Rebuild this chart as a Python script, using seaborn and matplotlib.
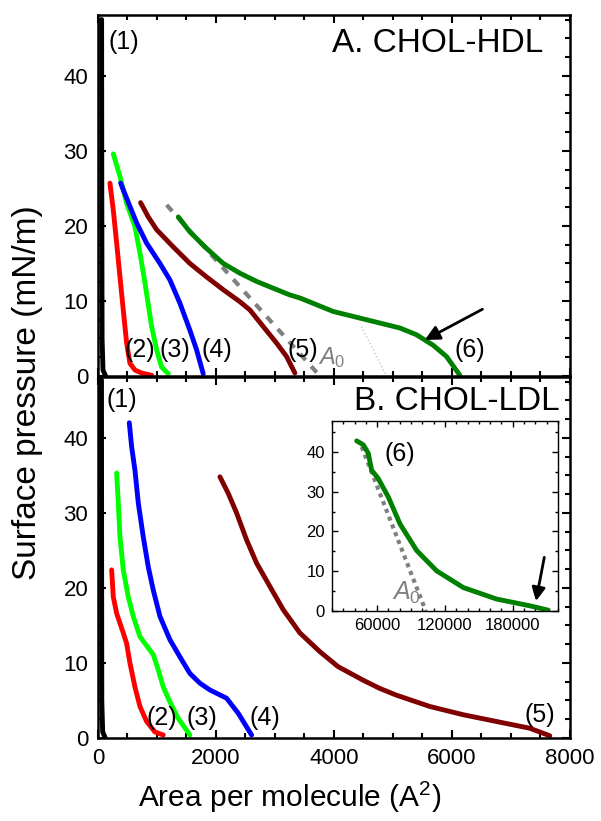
import matplotlib
matplotlib.use("Agg")
import matplotlib.pyplot as plt
from matplotlib.ticker import MultipleLocator
import seaborn as sns

# ---- data (area in A^2, pressure in mN/m) ----
# panel A: CHOL-HDL
hdl1_x = [130, 85, 70, 65, 62]
hdl1_y = [0, 0.8, 5, 25, 47.5]
hdl2_x = [203, 260, 317, 373, 429, 486, 542, 627, 740, 910]
hdl2_y = [25.7, 22.1, 17.7, 13.2, 8.8, 4.4, 1.7, 0.8, 0.4, 0.1]
hdl3_x = [260, 373, 486, 627, 712, 797, 910, 995, 1079, 1192]
hdl3_y = [29.6, 26.6, 23.0, 19.9, 16.4, 12.4, 6.6, 3.5, 1.2, 0.3]
hdl4_x = [384, 542, 656, 825, 1051, 1220, 1390, 1559, 1672, 1785]
hdl4_y = [25.7, 22.6, 20.4, 17.7, 15.0, 12.8, 9.7, 6.1, 3.5, 0.3]
hdl5_x = [723, 853, 995, 1277, 1559, 1842, 2124, 2407, 2576, 2802, 3028, 3198, 3339]
hdl5_y = [23.1, 21.2, 19.5, 17.2, 15.0, 13.2, 11.5, 9.9, 8.8, 6.6, 4.4, 2.6, 0.4]
hdl6_x = [1362, 1559, 1842, 2124, 2407, 2690, 3254, 3424, 3989, 4554, 5119,
          5401, 5684, 5910, 6136]
hdl6_y = [21.2, 19.2, 17.0, 15.0, 13.7, 12.6, 10.8, 10.4, 8.6, 7.5, 6.4,
          5.5, 4.1, 2.6, 0.1]
hdl_a0_x = [1164, 3820]
hdl_a0_y = [22.8, -0.5]
hdl_tan_x = [4469, 4980]
hdl_tan_y = [6.6, -1.4]

# panel B: CHOL-LDL
ldl1_x = [125, 80, 65, 62, 60]
ldl1_y = [0, 0.8, 5, 25, 47.7]
ldl2_x = [232, 260, 317, 429, 486, 542, 627, 712, 825, 966, 1107]
ldl2_y = [22.4, 18.8, 16.6, 14.0, 12.6, 10.0, 6.8, 4.2, 2.2, 0.8, 0.4]
ldl3_x = [317, 345, 373, 429, 514, 599, 712, 853, 938, 1022, 1107, 1220, 1362, 1559]
ldl3_y = [35.3, 31.3, 26.8, 22.4, 18.8, 16.2, 13.5, 12.0, 11.1, 9.1, 6.8, 4.8, 2.6, 0.4]
ldl4_x = [531, 571, 627, 684, 768, 853, 938, 1051, 1220, 1390, 1559, 1729,
          1898, 2181, 2378, 2605]
ldl4_y = [42.0, 38.8, 35.7, 31.3, 26.8, 22.8, 19.7, 16.2, 13.1, 10.8, 8.6, 7.3,
          6.4, 5.3, 3.3, 0.4]
ldl5_x = [2068, 2209, 2350, 2520, 2690, 2915, 3141, 3424, 3763, 4073, 4497,
          4780, 5063, 5627, 6192, 6757, 7322, 7661]
ldl5_y = [34.8, 32.6, 30.0, 26.4, 23.3, 20.2, 17.1, 14.0, 11.5, 9.5, 7.7,
          6.6, 5.7, 4.2, 3.1, 2.2, 1.3, 0.3]

# inset: curve (6) of CHOL-LDL
ins6_x = [41850, 47700, 52100, 55100, 61000, 69800, 80200, 95000, 112600,
          136200, 165700, 195200, 211400]
ins6_y = [42.8, 41.8, 39.7, 35.4, 33.3, 28.7, 21.9, 15.2, 10.1, 5.9, 3.0, 1.3, 0.2]
ins_a0_x = [46300, 103000]
ins_a0_y = [41.3, 0.0]

sns.set_style("ticks")
plt.rcParams['font.family'] = ['Liberation Sans', 'DejaVu Sans']
plt.rcParams['mathtext.fontset'] = 'custom'
plt.rcParams['mathtext.rm'] = 'Liberation Sans'
plt.rcParams['mathtext.it'] = 'Liberation Sans:italic'
for k in ['text.color', 'axes.labelcolor', 'xtick.color', 'ytick.color', 'axes.edgecolor']:
    plt.rcParams[k] = 'black'

RED = '#ff0000'
LIME = '#00ff00'
BLUE = '#0000ff'
MAROON = '#800000'
DGREEN = '#008000'
GRAY = '#808080'
LW = 3.5

fig = plt.figure(figsize=(6.01, 8.21), dpi=100)
axA = fig.add_axes([0.163, 0.542, 0.785, 0.4397])
axB = fig.add_axes([0.163, 0.1011, 0.785, 0.4397])
axI = fig.add_axes([0.5524, 0.2558, 0.376, 0.2314])


def curve(ax, x, y, color, lw=LW, **kw):
    sns.lineplot(x=x, y=y, ax=ax, color=color, lw=lw, sort=False,
                 estimator=None, legend=False, **kw)


def style_main(ax):
    ax.set_xlim(0, 8000)
    ax.set_ylim(0, 48.1)
    ax.xaxis.set_major_locator(MultipleLocator(2000))
    ax.xaxis.set_minor_locator(MultipleLocator(500))
    ax.yaxis.set_major_locator(MultipleLocator(10))
    ax.yaxis.set_minor_locator(MultipleLocator(2.5))
    ax.tick_params(which='both', direction='in', top=True, right=True,
                   width=1.5, labelsize=16)
    ax.tick_params(which='major', length=6, pad=7)
    ax.tick_params(which='minor', length=3.5)
    for s in ax.spines.values():
        s.set_linewidth(1.8)
    ax.set_xlabel('')
    ax.set_ylabel('')


# ---- panel A ----
curve(axA, hdl_tan_x, hdl_tan_y, '#c8c8c8', lw=1.0, linestyle=':', clip_on=False)
curve(axA, hdl_a0_x, hdl_a0_y, GRAY, lw=3.0, linestyle=(0, (2, 2)), clip_on=False)
curve(axA, hdl1_x, hdl1_y, 'black', lw=3.5)
curve(axA, hdl2_x, hdl2_y, RED)
curve(axA, hdl3_x, hdl3_y, LIME)
curve(axA, hdl4_x, hdl4_y, BLUE)
curve(axA, hdl5_x, hdl5_y, MAROON)
curve(axA, hdl6_x, hdl6_y, DGREEN)
axA.annotate('', xy=(5542, 4.8), xytext=(6520, 8.9),
             arrowprops=dict(arrowstyle='-|>', color='black', lw=2,
                             mutation_scale=22, shrinkA=0, shrinkB=0))
style_main(axA)
axA.tick_params(labelbottom=False)
lab = dict(fontsize=18, ha='center', va='center')
axA.text(440, 44.5, '(1)', **lab)
axA.text(712, 3.5, '(2)', **lab)
axA.text(1305, 3.5, '(3)', **lab)
axA.text(2011, 3.5, '(4)', **lab)
axA.text(3480, 3.5, '(5)', **lab)
axA.text(6305, 3.5, '(6)', **lab)
axA.text(3960, 2.4, r'$A_0$', fontsize=17, color=GRAY, ha='center', va='center')
axA.text(0.943, 0.922, 'A. CHOL-HDL', transform=axA.transAxes, fontsize=24,
         ha='right', va='center')

# ---- panel B ----
curve(axB, ldl1_x, ldl1_y, 'black', lw=3.5)
curve(axB, ldl2_x, ldl2_y, RED)
curve(axB, ldl3_x, ldl3_y, LIME)
curve(axB, ldl4_x, ldl4_y, BLUE)
curve(axB, ldl5_x, ldl5_y, MAROON)
style_main(axB)
axB.text(401, 45, '(1)', **lab)
axB.text(1079, 2.6, '(2)', **lab)
axB.text(1757, 2.6, '(3)', **lab)
axB.text(2831, 2.6, '(4)', **lab)
axB.text(7492, 3.1, '(5)', **lab)
axB.text(0.979, 0.931, 'B. CHOL-LDL', transform=axB.transAxes, fontsize=24,
         ha='right', va='center')

# ---- inset ----
curve(axI, ins_a0_x, ins_a0_y, GRAY, lw=3.0, linestyle=(0, (1, 1)))
curve(axI, ins6_x, ins6_y, DGREEN)
axI.annotate('', xy=(200500, 2.5), xytext=(207900, 13.5),
             arrowprops=dict(arrowstyle='-|>', color='black', lw=2,
                             mutation_scale=20, shrinkA=0, shrinkB=0))
axI.set_xlim(20000, 220000)
axI.set_ylim(0, 47.8)
axI.xaxis.set_major_locator(MultipleLocator(60000))
axI.xaxis.set_minor_locator(MultipleLocator(10000))
axI.yaxis.set_major_locator(MultipleLocator(10))
axI.yaxis.set_minor_locator(MultipleLocator(5))
axI.tick_params(which='both', direction='in', top=True, right=True,
                width=1.0, labelsize=12)
axI.tick_params(which='major', length=4, pad=5)
axI.tick_params(which='minor', length=2.5)
for s in axI.spines.values():
    s.set_linewidth(1.0)
axI.set_xlabel('')
axI.set_ylabel('')
axI.text(80000, 39.5, '(6)', fontsize=18, ha='center', va='center')
axI.text(86000, 4.5, r'$A_0$', fontsize=18, color=GRAY, ha='center', va='center')

fig.text(28 / 601, 1 - 393 / 821, 'Surface pressure (mN/m)', rotation=90,
         fontsize=24, ha='center', va='center')
fig.text(290 / 601, 1 - 797 / 821, r'Area per molecule (A$^2$)', fontsize=21.5,
         ha='center', va='center')

fig.savefig('out.png', dpi=100)
